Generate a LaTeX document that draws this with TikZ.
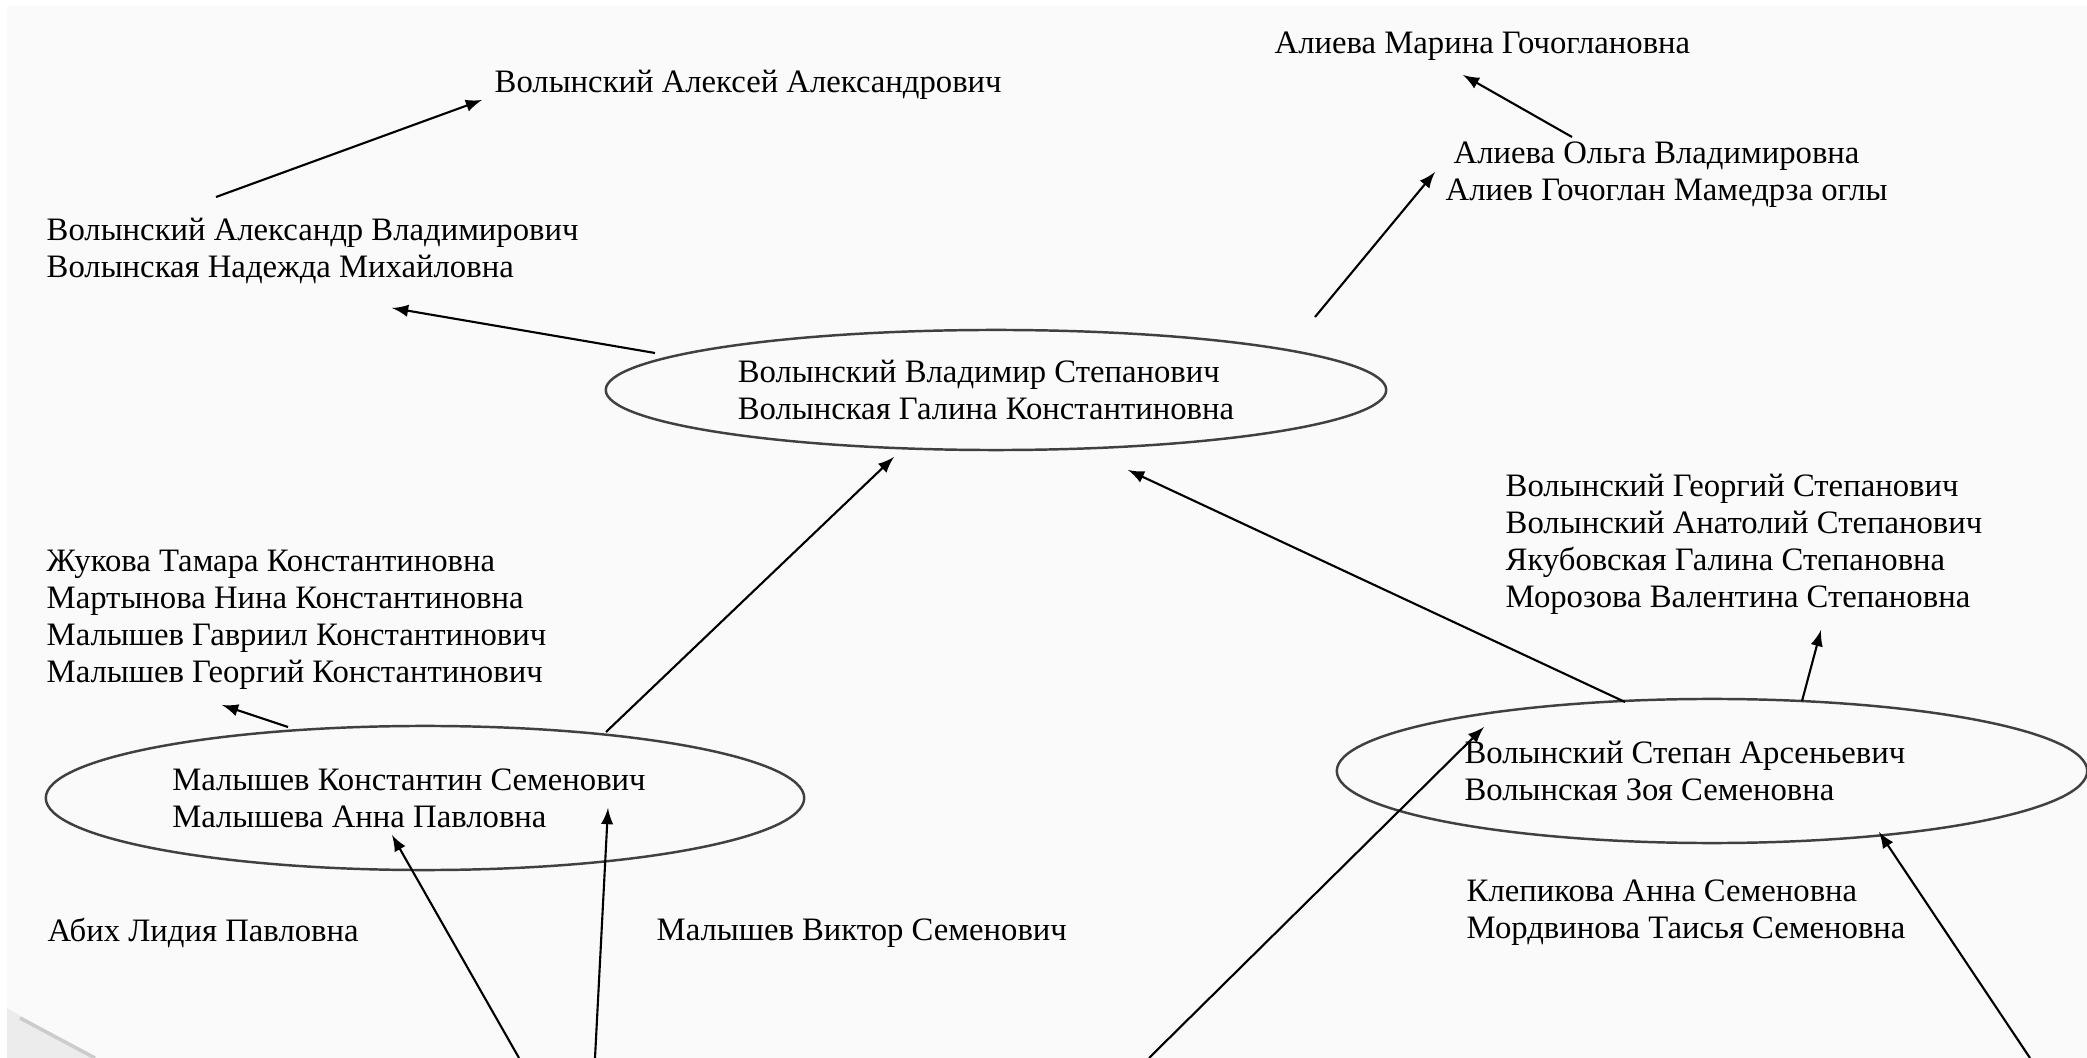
\documentclass[tikz,border=0pt]{standalone}
\usepackage{fontspec}
\setmainfont{Liberation Serif}
\usetikzlibrary{arrows,shapes.geometric,calc}

\begin{document}
\begin{tikzpicture}[x=0.01cm,y=-0.01cm,
		person/.style={anchor=west,inner sep=0pt,align=left,font=\fontsize{9.3pt}{10.5pt}\selectfont},
		couple/.style={ellipse,draw=black!75,line width=0.7pt,inner sep=0pt,align=left,font=\fontsize{9.3pt}{10.5pt}\selectfont},
		link/.style={-latex,line width=0.6pt}]
		\useasboundingbox (0,0) rectangle (2087,1058);
		\fill[white] (0,0) rectangle (2087,1058);
		\fill[black!2] (7,6) rectangle (2087,1058);
		\fill[gray!15] (7,1008) -- (95,1058) -- (7,1058) -- cycle; % corner of the scan
		\draw[gray!40,line width=1pt] (20,1018) -- (95,1058);
		% couples
		\node[couple,minimum width=7.8cm,minimum height=1.2cm] (vladimir) at (996,390)
		{Волынский Владимир Степанович\\Волынская Галина Константиновна\hspace*{0.2cm}};
		\node[couple,minimum width=7.5cm,minimum height=1.44cm] (stepan) at (1712,771)
		{Волынский Степан Арсеньевич\hspace*{0.54cm}\\Волынская Зоя Семеновна};
		\node[couple,minimum width=7.58cm,minimum height=1.44cm] (malyshev) at (425,798)
		{Малышев Константин Семенович\hspace*{0.32cm}\\Малышева Анна Павловна};
		% relatives
		\node[person] (alexey) at (494,85) {Волынский Алексей Александрович};
		\node[person] (alexandr) at (46,251) {Волынский Александр Владимирович\\Волынская Надежда Михайловна};
		\node[person] (marina) at (1274,46) {Алиева Марина Гочоглановна};
		\node[person] (olga) at (1445,175) {\hspace*{0.08cm}Алиева Ольга Владимировна\\Алиев Гочоглан Мамедрза оглы};
		\node[person] (georgiy) at (1505,544) {Волынский Георгий Степанович\\Волынский Анатолий Степанович\\Якубовская Галина Степановна\\Морозова Валентина Степановна};
		\node[person] (klepikova) at (1466,913) {Клепикова Анна Семеновна\\Мордвинова Таисья Семеновна};
		\node[person] (zhukova) at (46,620) {Жукова Тамара Константиновна\\Мартынова Нина Константиновна\\Малышев Гавриил Константинович\\Малышев Георгий Константинович};
		\node[person] (abikh) at (47,933) {Абих Лидия Павловна};
		\node[person] (viktor) at (656,933) {Малышев Виктор Семенович};
		% ends below the page
		\coordinate (low1) at (519,1058);
		\coordinate (low2) at (595,1058);
		\coordinate (low3) at (1149,1058);
		\coordinate (low4) at (2030,1058);
		% arrows
		\draw[link] ($(alexandr.west)+(170,-54)$) -- ($(alexey.west)+(-12,15)$);
		\draw[link] ($(vladimir.center)+(-341,-37)$) -- ($(alexandr.west)+(346,57)$);
		\draw[link] ($(vladimir.center)+(319,-73)$) -- ($(olga.west)+(-10,-3)$);
		\draw[link] ($(olga.west)+(127,-38)$) -- ($(marina.west)+(189,29)$);
		\draw[link] ($(stepan.center)+(-87,-69)$) -- ($(vladimir.center)+(132,80)$);
		\draw[link] ($(stepan.center)+(90,-70)$) -- ($(georgiy.west)+(316,86)$);
		\draw[link] ($(malyshev.center)+(181,-66)$) -- ($(vladimir.center)+(-102,67)$);
		\draw[link] ($(malyshev.center)+(-137,-71)$) -- ($(zhukova.west)+(176,85)$);
		\draw[link] (low1) -- ($(malyshev.center)+(-33,37)$);
		\draw[link] (low2) -- ($(malyshev.center)+(183,10)$);
		\draw[link] (low3) -- ($(stepan.center)+(-228,-44)$);
		\draw[link] (low4) -- ($(stepan.center)+(167,61)$);
\end{tikzpicture}
\end{document}
